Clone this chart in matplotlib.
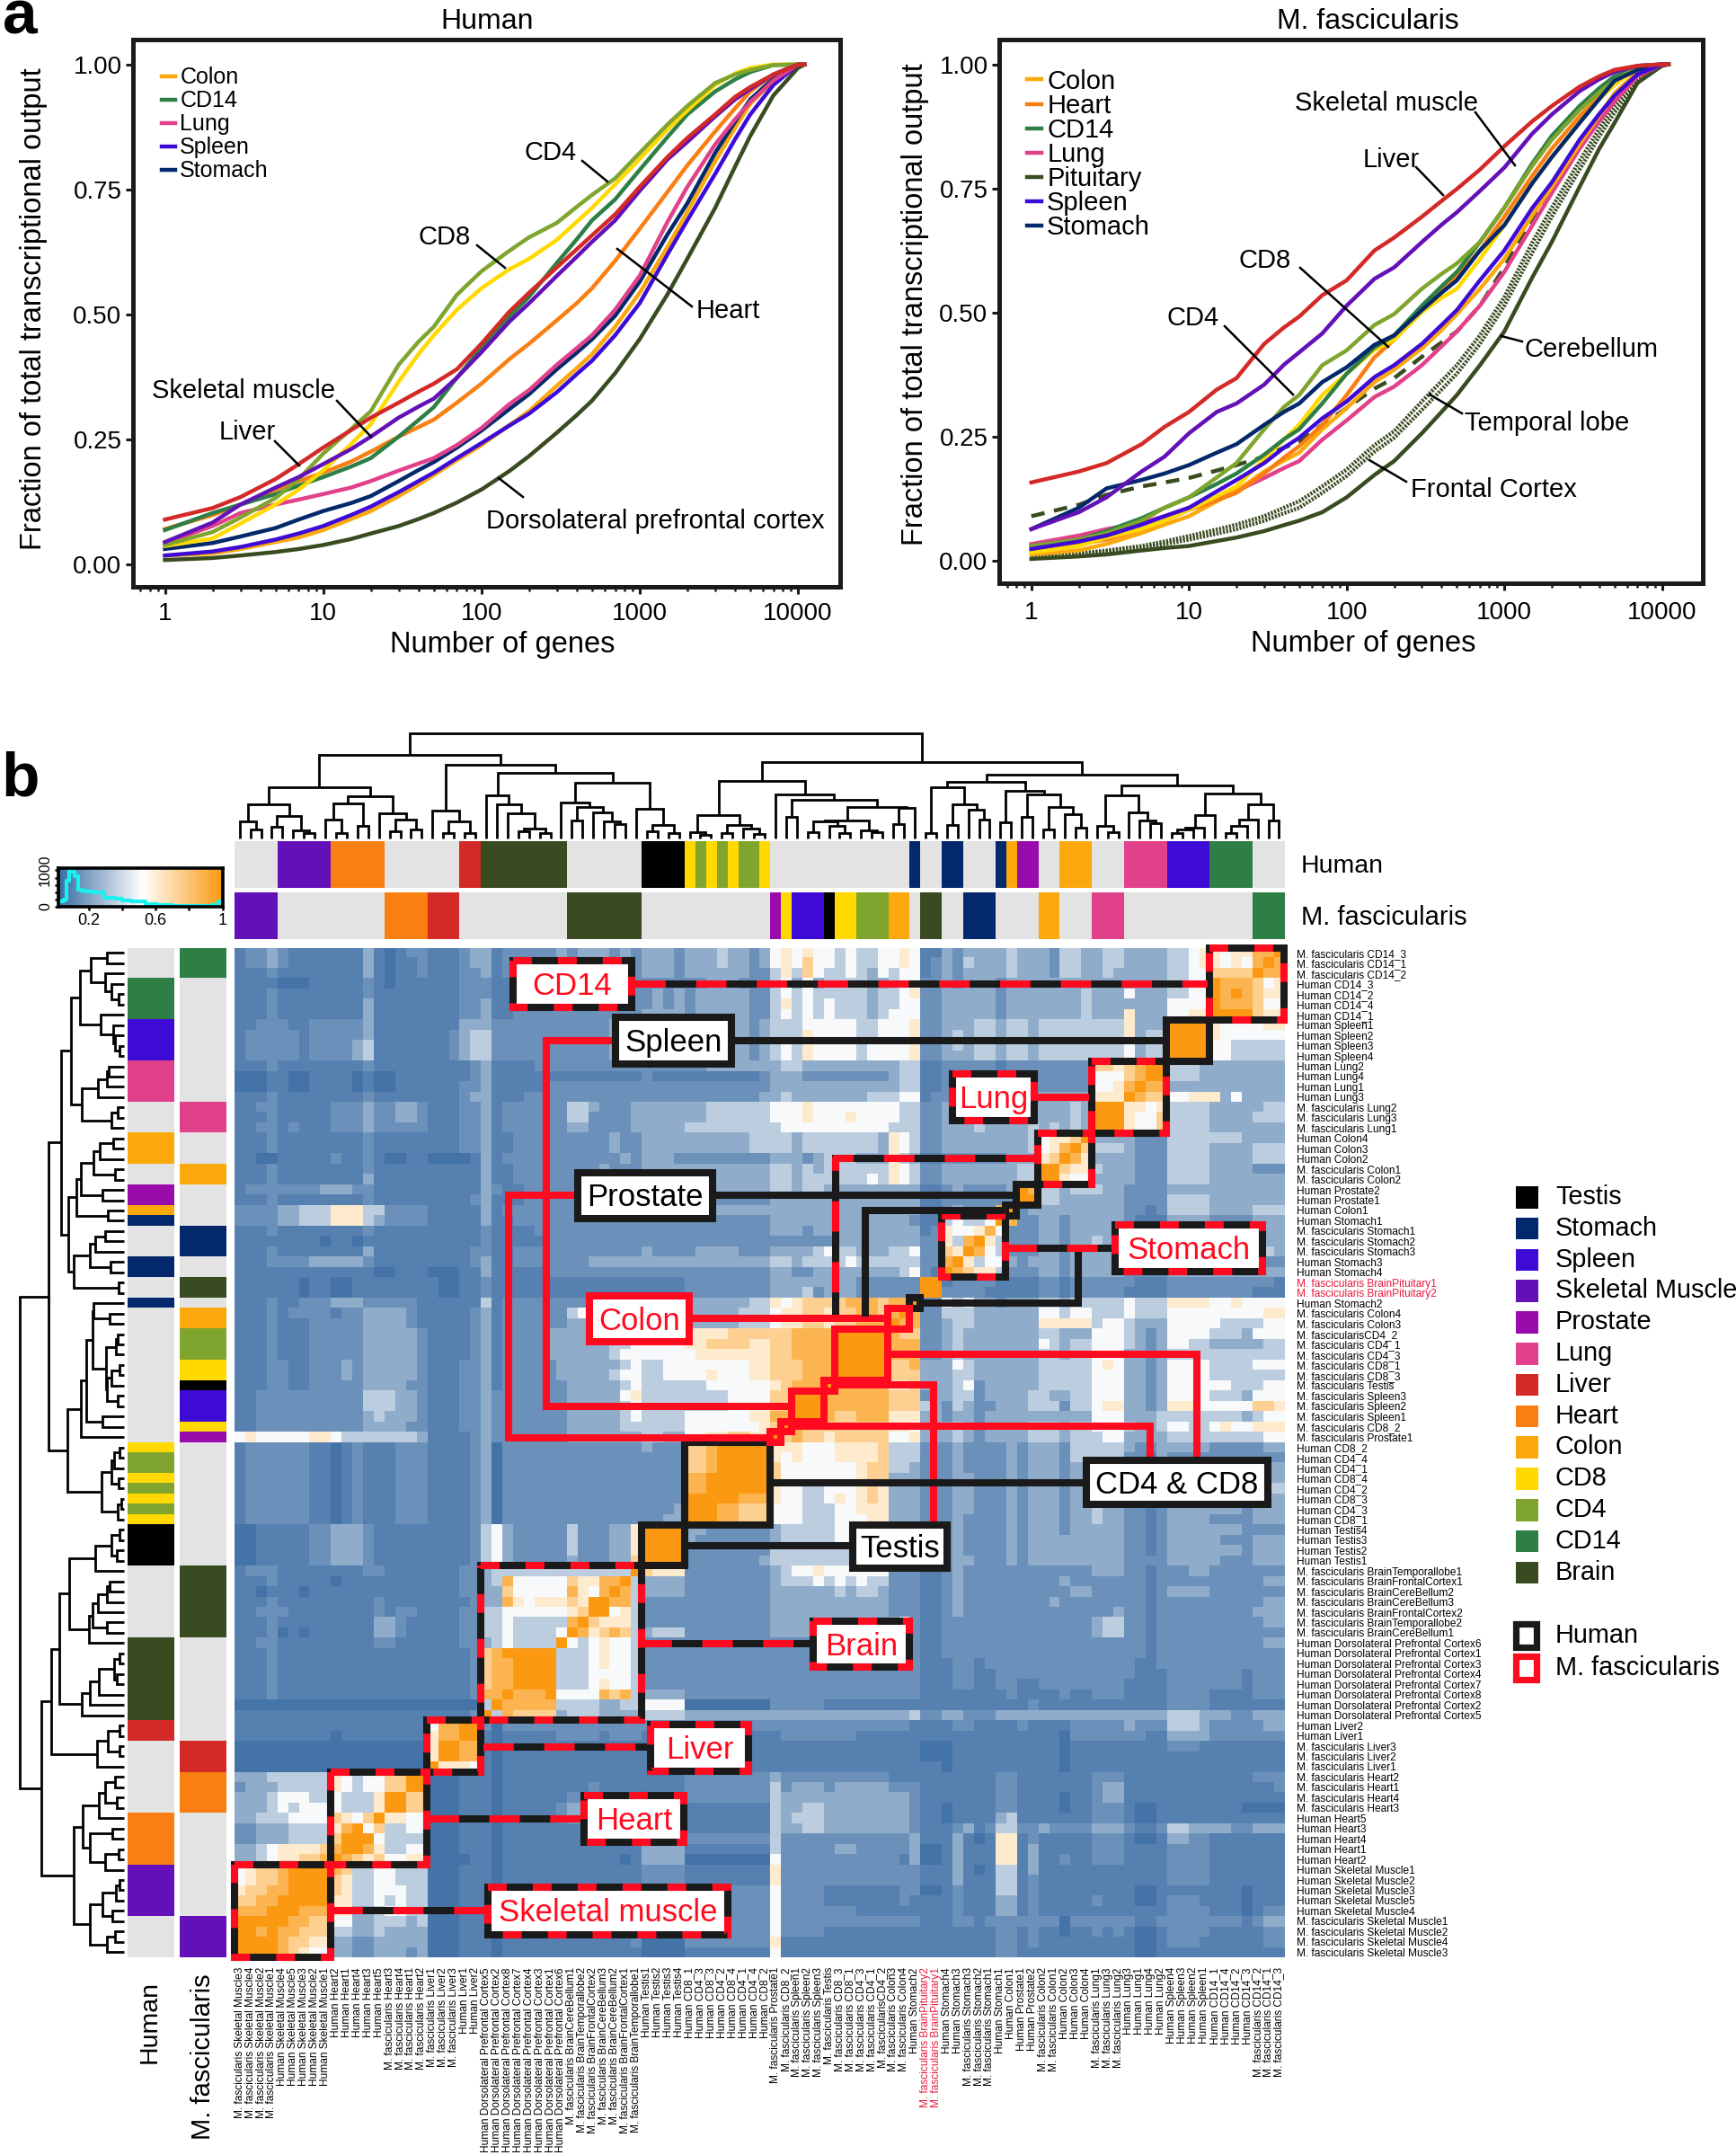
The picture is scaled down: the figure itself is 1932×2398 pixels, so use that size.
import numpy as np
import matplotlib
matplotlib.use("Agg")
import matplotlib.pyplot as plt
from matplotlib.colors import LinearSegmentedColormap, ListedColormap
from matplotlib.patches import Rectangle
from matplotlib.lines import Line2D

plt.rcParams["font.family"] = ["Liberation Sans", "DejaVu Sans"]

W, H = 1932, 2398

# ── panel a data ───────────────────────────────────────────────────────────────

GENES = [1, 2, 3, 5, 7, 10, 15, 20, 30, 40, 50, 70, 100, 150, 200, 300, 400, 500, 700, 1000, 1500, 2000, 3000, 4000, 5000, 7000, 10000, 11000]

h_dlpfc = [.008, .012, .017, .024, .03, .038, .05, .061, .076, .09, .102, .123, .149, .186, .216, .263, .298, .327, .382, .45, .54, .611, .713, .795, .857, .938, .993, 1]
h_colon = [.017, .021, .03, .044, .053, .068, .09, .106, .136, .159, .178, .208, .238, .278, .306, .357, .392, .42, .475, .543, .635, .705, .806, .873, .921, .968, 1, 1]
h_spleen = [.017, .025, .034, .049, .061, .076, .098, .115, .144, .166, .183, .212, .242, .277, .301, .344, .38, .407, .458, .522, .62, .688, .781, .85, .90, .959, 1, 1]
h_stomach = [.03, .042, .055, .072, .089, .106, .122, .136, .166, .188, .204, .233, .267, .31, .34, .39, .423, .45, .497, .565, .66, .722, .823, .885, .93, .972, 1, 1]
h_lung = [.042, .076, .102, .119, .129, .14, .153, .166, .187, .201, .212, .238, .272, .32, .348, .399, .432, .458, .509, .577, .685, .755, .84, .89, .925, .968, 1, 1]
h_heart = [.07, .098, .119, .149, .166, .183, .205, .225, .255, .274, .289, .323, .361, .41, .441, .488, .522, .552, .607, .671, .745, .798, .866, .912, .946, .98, 1, 1]
h_cd14 = [.068, .102, .119, .14, .157, .174, .195, .212, .255, .288, .314, .373, .433, .495, .535, .603, .65, .688, .73, .789, .855, .90, .946, .97, .985, .999, 1, 1]
h_cd8 = [.036, .051, .081, .119, .149, .187, .24, .28, .365, .42, .458, .509, .552, .59, .611, .649, .685, .713, .76, .811, .87, .908, .959, .982, .993, 1, 1, 1]
h_cd4 = [.038, .064, .093, .132, .17, .221, .27, .306, .399, .445, .475, .539, .586, .627, .654, .683, .715, .739, .772, .823, .88, .917, .963, .98, .989, .999, 1, 1]
h_muscle = [.044, .083, .119, .153, .174, .2, .23, .255, .293, .315, .331, .373, .424, .485, .522, .577, .615, .645, .688, .747, .81, .845, .896, .93, .951, .98, 1, 1]
h_liver = [.089, .112, .134, .17, .2, .233, .268, .293, .323, .345, .361, .39, .441, .505, .543, .594, .63, .658, .70, .755, .815, .853, .90, .935, .955, .98, 1, 1]

m_cereb = [.004, .009, .013, .021, .026, .03, .04, .047, .06, .072, .081, .098, .128, .173, .201, .257, .3, .334, .394, .462, .57, .642, .753, .83, .882, .963, .997, 1]
m_frontal = [.009, .013, .019, .026, .034, .043, .055, .064, .081, .096, .107, .137, .171, .22, .248, .304, .345, .377, .437, .514, .62, .693, .788, .855, .903, .963, 1, 1]
m_temporal = [.01, .015, .021, .03, .039, .05, .063, .073, .09, .107, .12, .15, .184, .233, .261, .321, .362, .394, .454, .531, .64, .711, .805, .87, .916, .967, 1, 1]
m_pituitary = [.09, .113, .133, .15, .158, .167, .182, .193, .21, .228, .24, .274, .308, .347, .368, .411, .44, .462, .514, .591, .69, .753, .839, .895, .937, .98, 1, 1]
m_lung = [.034, .051, .064, .077, .09, .107, .127, .141, .167, .187, .201, .244, .283, .33, .351, .394, .432, .462, .514, .582, .675, .741, .83, .885, .925, .976, 1, 1]
m_colon = [.013, .021, .034, .056, .073, .09, .12, .141, .18, .202, .218, .265, .308, .36, .385, .428, .465, .497, .548, .608, .695, .753, .839, .897, .942, .985, 1, 1]
m_heart = [.021, .034, .043, .064, .081, .103, .122, .137, .176, .208, .231, .274, .334, .41, .445, .505, .545, .574, .625, .693, .775, .83, .895, .935, .963, .993, 1, 1]
m_cd8 = [.017, .03, .047, .064, .081, .103, .13, .15, .205, .245, .274, .334, .377, .425, .445, .501, .53, .548, .608, .676, .76, .813, .882, .93, .959, .993, 1, 1]
m_cd14 = [.03, .043, .06, .086, .107, .128, .155, .176, .214, .245, .265, .317, .377, .43, .454, .514, .553, .582, .642, .711, .8, .856, .916, .952, .976, .997, 1, 1]
m_cd4 = [.03, .043, .056, .081, .107, .128, .168, .197, .265, .31, .334, .394, .424, .475, .497, .548, .578, .599, .642, .711, .795, .848, .908, .944, .967, .995, 1, 1]
m_stomach = [.064, .107, .146, .163, .176, .193, .218, .235, .274, .3, .317, .36, .39, .435, .454, .505, .54, .565, .625, .676, .76, .813, .882, .93, .967, .989, 1, 1]
m_spleen = [.024, .039, .051, .073, .09, .107, .14, .163, .197, .228, .248, .287, .321, .37, .394, .437, .475, .505, .565, .625, .71, .762, .848, .9, .937, .98, 1, 1]
m_muscle = [.064, .098, .128, .18, .21, .257, .3, .317, .355, .395, .42, .458, .514, .568, .591, .642, .677, .702, .745, .792, .86, .899, .946, .97, .985, .997, 1, 1]
m_liver = [.158, .18, .197, .235, .27, .30, .345, .368, .437, .47, .492, .535, .565, .625, .651, .693, .725, .749, .788, .835, .885, .916, .955, .976, .989, .997, 1, 1]

COL = {"Testis": "#000000", "Stomach": "#03286b", "Spleen": "#3e0ad6", "Skeletal Muscle": "#6410b8",
       "Prostate": "#980cac", "Lung": "#e1418a", "Liver": "#d32a28", "Heart": "#f97f12", "Colon": "#fba80d",
       "CD8": "#ffd900", "CD4": "#7fa52e", "CD14": "#2e7f46", "Brain": "#394b20"}
GREY = "#e3e3e3"
RED = "#ff0a1e"
BLACK = "#1a1a1a"

# ── panel b data ───────────────────────────────────────────────────────────────

row_labels = [
    "M. fascicularis CD14_3", "M. fascicularis CD14_1", "M. fascicularis CD14_2",
    "Human CD14_3", "Human CD14_2", "Human CD14_4", "Human CD14_1",
    "Human Spleen1", "Human Spleen2", "Human Spleen3", "Human Spleen4",
    "Human Lung2", "Human Lung4", "Human Lung1", "Human Lung3",
    "M. fascicularis Lung2", "M. fascicularis Lung3", "M. fascicularis Lung1",
    "Human Colon4", "Human Colon3", "Human Colon2",
    "M. fascicularis Colon1", "M. fascicularis Colon2",
    "Human Prostate2", "Human Prostate1", "Human Colon1", "Human Stomach1",
    "M. fascicularis Stomach1", "M. fascicularis Stomach2", "M. fascicularis Stomach3",
    "Human Stomach3", "Human Stomach4",
    "M. fascicularis BrainPituitary1", "M. fascicularis BrainPituitary2",
    "Human Stomach2", "M. fascicularis Colon4", "M. fascicularis Colon3",
    "M. fascicularisCD4_2", "M. fascicularis CD4_1", "M. fascicularis CD4_3",
    "M. fascicularis CD8_1", "M. fascicularis CD8_3", "M. fascicularis Testis",
    "M. fascicularis Spleen3", "M. fascicularis Spleen2", "M. fascicularis Spleen1",
    "M. fascicularis CD8_2", "M. fascicularis Prostate1",
    "Human CD8_2", "Human CD4_4", "Human CD4_1", "Human CD8_4", "Human CD4_2",
    "Human CD8_3", "Human CD4_3", "Human CD8_1",
    "Human Testis4", "Human Testis3", "Human Testis2", "Human Testis1",
    "M. fascicularis BrainTemporallobe1", "M. fascicularis BrainFrontalCortex1",
    "M. fascicularis BrainCereBellum2", "M. fascicularis BrainCereBellum3",
    "M. fascicularis BrainFrontalCortex2", "M. fascicularis BrainTemporallobe2",
    "M. fascicularis BrainCereBellum1",
    "Human Dorsolateral Prefrontal Cortex6", "Human Dorsolateral Prefrontal Cortex1",
    "Human Dorsolateral Prefrontal Cortex3", "Human Dorsolateral Prefrontal Cortex4",
    "Human Dorsolateral Prefrontal Cortex7", "Human Dorsolateral Prefrontal Cortex8",
    "Human Dorsolateral Prefrontal Cortex2", "Human Dorsolateral Prefrontal Cortex5",
    "Human Liver2", "Human Liver1",
    "M. fascicularis Liver3", "M. fascicularis Liver2", "M. fascicularis Liver1",
    "M. fascicularis Heart2", "M. fascicularis Heart1", "M. fascicularis Heart4", "M. fascicularis Heart3",
    "Human Heart5", "Human Heart3", "Human Heart4", "Human Heart1", "Human Heart2",
    "Human Skeletal Muscle1", "Human Skeletal Muscle2", "Human Skeletal Muscle3",
    "Human Skeletal Muscle5", "Human Skeletal Muscle4",
    "M. fascicularis Skeletal Muscle1", "M. fascicularis Skeletal Muscle2",
    "M. fascicularis Skeletal Muscle4", "M. fascicularis Skeletal Muscle3",
]
N = len(row_labels)

# correlation levels, one row per sample from the top,
# columns left to right up to the anti-diagonal, the rest is the mirror image
levels = """
1223 21111 11131 0122 111 23 31222223 2333232 3332 33343323 5 6 565 5 45 445 56 5 11 32 333 3 4 33 32 443 344 3333 4456 6566 889
1223 21111 11131 0112 111 23 31222223 2333232 3332 33343323 5 6 575 5 45 445 56 5 12 32 433 3 4 33 32 443 344 3333 4456 6565 89
1112 11111 11131 0112 111 22 31222222 2232222 3332 33333322 4 6 475 4 45 435 45 5 12 32 333 3 4 33 32 443 343 3333 4455 7777 9
1111 00011 11121 0111 111 22 21111222 2222222 2222 22333222 4 5 353 4 44 433 45 5 22 32 333 2 3 33 33 333 333 3333 4455 9888
1112 11111 11121 1111 111 22 21122222 2222222 2323 23333322 4 5 454 4 44 434 45 6 22 33 333 2 3 33 33 334 333 5333 4455 989
1112 11111 11131 1111 111 22 31122222 2222222 2323 23333322 4 6 454 5 44 434 45 5 22 33 333 2 3 33 33 334 333 3333 5555 98
1112 11111 11131 1111 111 22 31122222 2222222 3333 23333322 4 5 454 5 44 434 55 5 22 33 333 2 3 33 33 334 333 6333 5566 9
1122 21122 22231 1111 111 33 32222222 2222323 3333 33333323 4 4 455 5 55 445 55 6 22 33 344 3 4 43 44 444 444 6333 9999
1222 22122 22231 1111 112 34 42222222 2222323 3333 33333323 4 4 465 5 55 445 55 6 22 34 344 3 4 43 44 444 444 6344 999
1222 22122 22341 1111 112 34 42222222 2222322 3333 33333323 4 5 465 5 55 455 55 6 22 34 344 3 4 43 44 444 444 5344 99
1222 22122 22341 1111 112 34 42222222 2222322 3333 33333323 4 5 465 5 55 455 55 6 22 33 344 3 4 43 44 444 444 5344 9
1112 11111 11121 1111 111 12 31111222 2222222 2222 22333333 3 4 433 3 33 333 34 4 11 22 222 1 2 22 22 222 776 7899
0001 10011 11010 0111 111 12 31111111 1111111 2111 11111112 3 3 322 2 22 222 34 4 11 21 222 1 1 22 22 222 555 789
0001 10011 11010 0111 111 22 31111122 2222222 2222 22222222 3 3 333 3 33 333 34 4 11 22 222 1 2 22 22 222 556 89
1112 11111 11121 1111 111 23 31112222 2222222 2222 22222223 3 4 333 3 33 344 45 5 12 22 222 2 2 22 33 333 666 9
1122 11111 22232 2332 111 22 31222222 4432223 3333 33444444 5 5 565 5 55 555 54 4 22 33 333 3 3 33 33 343 999
1112 11111 22232 2332 111 22 31222222 4422223 3333 33444444 5 5 565 5 56 555 54 4 22 33 333 3 3 33 33 343 99
1122 12111 22232 2222 111 22 31222222 3322223 3333 44444444 4 5 555 5 55 555 44 4 22 33 343 3 3 34 34 343 9
1112 11111 11121 1111 111 22 31122222 2222322 3333 33333344 4 4 344 4 44 443 65 4 22 33 333 3 3 34 56 679
1112 11111 11121 1111 111 22 31122222 2222322 3333 33333344 4 4 344 4 44 443 65 4 22 33 333 3 3 34 56 89
1100 11111 21121 0011 000 01 31222222 2222232 3332 22222222 3 3 323 4 44 333 64 3 11 22 222 2 3 33 67 9
1112 11111 11121 1111 111 11 31122222 2223222 3333 33333333 4 4 343 4 44 444 65 4 22 33 333 3 3 44 99
1112 11111 11131 1111 111 11 31122222 2222222 3333 33333333 4 4 344 4 44 454 65 4 22 33 333 3 3 44 9
1222 22223 33221 1111 111 11 32112222 2222222 3333 33333333 4 4 344 3 33 333 33 3 11 23 222 2 3 98
1112 11111 11121 1111 111 12 31112222 2222222 2222 22222222 3 3 333 3 33 333 33 3 11 22 222 2 2 9
2222 33444 66644 2222 111 11 31222222 2222222 3333 33333333 3 3 333 3 33 333 33 3 11 23 222 8 9
2222 33444 66643 2222 111 11 31122222 2222222 2222 22222222 3 3 333 3 33 333 33 2 11 45 445 9
1112 11111 11121 1111 111 11 21111222 2222222 2222 22222222 3 3 323 3 33 333 33 3 12 65 568
1111 11110 11011 1111 111 11 21111122 2222222 2222 22222222 2 2 222 2 33 333 33 3 22 64 89
1112 11111 11131 1111 111 12 21122222 2222222 3222 23333222 3 3 334 5 44 333 44 5 22 76 9
1112 22233 33321 1111 111 12 31122222 2233333 3333 33333333 4 4 344 4 45 444 44 4 22 89
1111 11111 11110 0111 000 11 31111122 2222222 2222 22222222 3 3 223 3 33 333 34 5 21 9
1111 11011 00111 1111 100 11 21111111 1111111 1111 22222222 3 3 333 3 33 222 22 2 99
1111 11011 00111 1111 100 11 21111111 1111111 1111 22222222 3 3 342 3 33 222 22 2 9
1112 11222 33322 2221 111 11 41222222 2222222 3322 33333344 6 5 677 7 78 887 88 9
1112 12222 12233 3321 111 12 31222222 4522222 3333 33333444 5 6 677 6 77 887 89
1112 11122 22233 3321 111 12 31222222 3322222 3333 33333444 5 6 677 6 77 888 9
1112 11122 22233 3332 111 12 31222233 3333345 5555 66667777 7 7 888 8 99 999
1112 11122 22233 3332 111 12 31222233 3333445 5555 66777766 7 7 888 8 99 99
1112 11122 22233 3332 111 12 31222233 3333455 5555 56666666 7 7 888 8 99 9
1112 21122 23233 3332 111 22 31222223 3333345 4455 55555566 7 7 788 8 99
1112 21122 23233 3332 111 22 31222223 3333455 4455 55655566 7 7 788 8 9
1112 21122 22233 3322 111 22 31222222 3333345 4444 44555555 6 7 888 9
1122 22222 22244 4332 111 22 32222222 3333356 4444 44445555 7 7 999
1122 22222 22244 4332 111 22 32222222 3333345 4444 44445555 7 7 99
1122 22222 22234 3332 111 22 32222222 3333345 4444 55555566 8 8 9
1122 22222 22233 3322 111 22 32222222 3333344 4444 55555556 7 9
5655 55566 54444 4443 111 12 32222222 3333333 4433 55667766 9
1222 22211 01211 1222 111 12 30222222 2222222 3222 77899999
1222 22211 01211 1222 111 12 30222222 2222222 2222 7789999
1222 22211 01211 1222 111 12 30222222 2222222 2222 778999
1222 22211 01211 1222 111 12 30222222 2222222 2222 88999
1222 22211 01211 1222 111 12 30222222 2222222 2222 8899
1222 22211 01211 1222 111 12 30222222 2222222 2222 999
1222 22211 01211 1222 111 12 30222222 2222222 2223 99
1222 22211 01211 1222 111 12 30222222 2222222 2233 9
0011 11122 33321 1111 111 12 45322222 4222336 9999
0011 11122 33321 1111 111 12 45322222 4222336 999
0011 11122 33321 1111 111 12 45322222 4222336 99
0011 11122 33321 1111 111 12 45322222 3222337 9
1222 11111 11122 1111 111 22 34444444 4444449
1112 11111 01111 1111 111 22 34855555 766889
1101 11011 11111 1111 111 22 33755555 86589
1112 11111 11112 1111 111 12 33865666 7699
1122 21111 11112 1221 111 22 44555555 679
1112 11111 11113 3211 111 22 44544444 89
1112 01011 11113 3211 111 22 44544445 9
1122 11111 11112 2111 111 22 34544449
1112 11111 11111 1111 111 12 7899999
1112 11111 11111 1111 111 12 788999
1112 11111 11111 1111 111 12 78899
1112 11111 11111 1111 111 12 7889
1112 11111 11111 1111 111 12 889
0000 00000 00000 0000 000 00 49
1111 11111 11111 1111 111 12 9
1111 11111 11111 1111 588 99
1111 11111 01111 1111 688 9
0000 00000 00000 0000 699
0000 00000 00000 0000 69
0000 00000 00000 0000 9
3334 44444 65455 7799
2333 44444 65455 779
3334 55544 54446 99
3334 54555 54446 9
3344 45555 76579
2233 34444 6895
2233 34444 799
3345 66667 89
3345 66778 9
5677 89999
5677 8999
6778 899
7788 99
8889 9
9999
998
99
9
""".split("\n")[1:-1]
LEVEL_VALUE = [.05, .09, .15, .24, .35, .50, .62, .74, .87, 1.0]

# dendrogram as [height, left, right], leaves are columns counted from the left
tree = [1.0,
    [.793,
        [.483,
            [.325, [.16, 0, [.086, 1, 2]], [.21, [.11, 3, 4], [.075, 5, [.046, 6, 7]]]],
            [.397,
                [.33, [.18, 8, [.05, 9, 10]], [.115, 11, 12]],
                [.24, 13, [.18, [.066, 14, 15], [.086, 16, 17]]]]],
        [.698,
            [.26, 18, [.158, [.046, 19, 20], [.046, 21, 22]]],
            [.62,
                [.405, 23, [.325, 24, [.24, 25, [.095, [.066, 26, 27], [.046, 28, 29]]]]],
                [.53,
                    [.34, 30, [.30, [.167, 31, 32], [.247, 33, [.16, 34, [.138, 35, 36]]]]],
                    [.28, 37, [.124, [.066, 38, 39], [.046, 40, 41]]]]]]],
    [.727,
        [.546,
            [.218, [.057, 42, [.03, 43, 44]], [.124, [.05, 45, 46], [.095, 47, [.04, 48, 49]]]],
            [.417, 50,
                [.362, [.204, 51, 52],
                    [.30,
                        [.17, [.16, [.057, 53, 54], [.12, 55, [.046, 56, 57]]], [.075, 58, [.06, 59, 60]]],
                        [.29, [.138, 61, 62], 63]]]]],
        [.606,
            [.534,
                [.483, [.05, 64, 65],
                    [.325, [.13, 66, 67], [.273, 68, [.18, 69, 70]]]],
                [.454, [.152, 71, 72],
                    [.417, [.204, 73, 74],
                        [.296, [.086, 75, 76], [.233, 77, [.103, 78, 79]]]]]],
            [.506,
                [.405, [.118, 80, [.057, 81, 82]],
                    [.247, 83, [.167, 84, [.144, 85, 86]]]],
                [.425,
                    [.224, [.1, [.086, [.046, 87, 88], 89], 90], 91],
                    [.32, [.18, [.118, [.05, 92, 93], 94], 95], [.167, 96, 97]]]]]]]

# key histogram
hist_x = [.043, .062, .076, .09, .106, .126, .145, .167, .2, .263, .33, .39, .415, .5, .58, .636, .77, .91, .967, .99, 1.0]
hist_y = [160, 200, 720, 1000, 960, 840, 480, 440, 416, 384, 256, 224, 176, 136, 80, 40, 24, 24, 40, 144, 120]

# cluster boxes as first and last sample
boxes_both = [(0, 6), (11, 17), (18, 22), (26, 31), (60, 74), (75, 79), (80, 88), (89, 97)]
boxes_human = [(7, 10), (23, 24), (25, 25), (34, 34), (48, 55), (56, 59)]
boxes_macaque = [(35, 36), (37, 41), (42, 42), (43, 45), (46, 46), (47, 47)]

legend_items = ["Testis", "Stomach", "Spleen", "Skeletal Muscle", "Prostate", "Lung", "Liver",
                "Heart", "Colon", "CD8", "CD4", "CD14", "Brain"]


def tissue(name):
    if "Skeletal" in name:
        return "Skeletal Muscle"
    if "Brain" in name or "Dorsolateral" in name:
        return "Brain"
    for t in ["CD14", "CD4", "CD8", "Spleen", "Lung", "Colon", "Prostate", "Stomach", "Testis", "Liver", "Heart"]:
        if t in name:
            return t


def ax_px(x0, y0, x1, y1):
    return fig.add_axes([x0 / W, 1 - y1 / H, (x1 - x0) / W, (y1 - y0) / H])


fig = plt.figure(figsize=(W / 100, H / 100), dpi=100)

# ── panel a ────────────────────────────────────────────────────────────────────

def curve_axes(box, xlim, title, title_x, xlabel_x, ylabel_y, ylabel_x, xpad):
    ax = ax_px(*box)
    ax.set_xscale("log")
    ax.set_xlim(*xlim)
    ax.set_ylim(-.045, 1.05)
    ax.set_xticks([1, 10, 100, 1000, 10000], ["1", "10", "100", "1000", "10000"])
    ax.set_yticks([0, .25, .5, .75, 1], ["0.00", "0.25", "0.50", "0.75", "1.00"])
    ax.tick_params(axis="both", which="major", labelsize=20, length=6, width=2.2, color=BLACK, pad=3)
    ax.tick_params(axis="x", which="major", pad=xpad)
    ax.tick_params(axis="x", which="minor", length=3.5, width=1.8, color=BLACK)
    for s in ax.spines.values():
        s.set_linewidth(3.6)
        s.set_color(BLACK)
    ax.set_xlabel("Number of genes", fontsize=23.5, x=xlabel_x, labelpad=4)
    ax.set_ylabel("Fraction of total transcriptional output", fontsize=23.5, y=ylabel_y)
    ax.yaxis.set_label_coords(ylabel_x, ylabel_y)
    ax.set_title(title, fontsize=23, x=title_x, pad=9)
    return ax


ax1 = curve_axes((148, 44, 935, 652.6), (10 ** -.202, 10 ** 4.267), "Human", .501, .523, .507, -.121, 6.5)
for vals, c in [(h_dlpfc, "Brain"), (h_colon, "Colon"), (h_spleen, "Spleen"), (h_stomach, "Stomach"), (h_lung, "Lung"),
                (h_heart, "Heart"), (h_cd14, "CD14"), (h_cd8, "CD8"), (h_cd4, "CD4"), (h_muscle, "Skeletal Muscle"),
                (h_liver, "Liver")]:
    ax1.plot(GENES, vals, color=COL[c], lw=3.2)
ax1.legend(handles=[Line2D([], [], color=COL[c], lw=3.2, label=c) for c in ["Colon", "CD14", "Lung", "Spleen", "Stomach"]],
           loc="upper left", bbox_to_anchor=(.041, .95), frameon=False, fontsize=18, handlelength=.6,
           handletextpad=.2, labelspacing=.08, borderpad=0, borderaxespad=0)

ax2 = curve_axes((1112, 44, 1894.5, 649), (10 ** -.204, 10 ** 4.256), "M. fascicularis", .524, .518, .513, -.1, 8.5)
ax2.plot(GENES, m_cereb, color=COL["Brain"], lw=3.2)
ax2.plot(GENES, m_frontal, color=COL["Brain"], lw=3.2, ls=(0, (.5, .35)))
ax2.plot(GENES, m_temporal, color=COL["Brain"], lw=3.2, ls=(0, (.5, .35)))
ax2.plot(GENES, m_pituitary, color=COL["Brain"], lw=3.2, ls=(0, (3.4, 2.4)))
for vals, c in [(m_lung, "Lung"), (m_colon, "Colon"), (m_heart, "Heart"), (m_cd8, "CD8"), (m_cd14, "CD14"),
                (m_cd4, "CD4"), (m_stomach, "Stomach"), (m_spleen, "Spleen"), (m_muscle, "Skeletal Muscle"),
                (m_liver, "Liver")]:
    ax2.plot(GENES, vals, color=COL[c], lw=3.2)
m_handles = [Line2D([], [], color=COL[c], lw=3.2, label=c) for c in ["Colon", "Heart", "CD14", "Lung"]]
m_handles.append(Line2D([], [], color=COL["Brain"], lw=3.2, label="Pituitary"))
m_handles += [Line2D([], [], color=COL[c], lw=3.2, label=c) for c in ["Spleen", "Stomach"]]
ax2.legend(handles=m_handles, loc="upper left", bbox_to_anchor=(.040, .946), frameon=False, fontsize=21, handlelength=.55,
           handletextpad=.2, labelspacing=-.03, borderpad=0, borderaxespad=0)

# ── panel b: heatmap and annotation bars ───────────────────────────────────────

matrix_rows = [r.replace(" ", "") for r in levels]
M = np.zeros((N, N))
for k, row in enumerate(matrix_rows):
    row = row.ljust(N - k, row[-1])[:N - k]
    for j, ch in enumerate(row):
        M[k, j] = LEVEL_VALUE[int(ch)]
        M[N - 1 - j, N - 1 - k] = LEVEL_VALUE[int(ch)]

heat_cmap = LinearSegmentedColormap.from_list("heat", [(0, "#3a6ca3"), (.51, "#ffffff"), (1, "#fb9a12")])

hm = ax_px(260.7, 1054.7, 1429.4, 2178)
hm.imshow(M, cmap=heat_cmap, vmin=.02, vmax=1, aspect="auto", interpolation="nearest", extent=(0, N, N, 0))
hm.yaxis.tick_right()
hm.set_yticks(np.arange(N) + .5, row_labels, fontsize=8.6)
hm.set_xticks(np.arange(N) + .5, row_labels[::-1], fontsize=8.6, rotation=90)
hm.tick_params(axis="both", length=0)
hm.tick_params(axis="y", pad=9.5)
hm.tick_params(axis="x", pad=8)
for lab in hm.get_xticklabels() + hm.get_yticklabels():
    if "Pituitary" in lab.get_text():
        lab.set_color("#e8193c")
for s in hm.spines.values():
    s.set_visible(False)


def outline(ax, x, y, w, h, style, lw=5.8, face="none", z=5, clip=False):
    kw = dict(clip_on=clip, zorder=z, joinstyle="miter")
    base = RED if style == "red" else BLACK
    ax.add_patch(Rectangle((x, y), w, h, fc=face, ec=base, lw=lw, **kw))
    if style == "both":
        ax.add_patch(Rectangle((x, y), w, h, fc="none", ec=RED, lw=lw, ls=(0, (2.6, 3.6)), capstyle="butt", **kw))


for style, group in [("black", boxes_human), ("red", boxes_macaque), ("both", boxes_both)]:
    for k0, k1 in group:
        size = k1 - k0 + 1
        outline(hm, N - 1 - k1, k0, size, size, style)

cat_names = ["none"] + list(COL)
bar_cmap = ListedColormap([GREY] + list(COL.values()))
human_bar = np.array([cat_names.index(tissue(n)) if n.startswith("Human") else 0 for n in row_labels])
macaque_bar = np.array([cat_names.index(tissue(n)) if n.startswith("M.") else 0 for n in row_labels])

for box, vals in [((261, 936, 1429.4, 988), human_bar), ((261, 993, 1429.4, 1045), macaque_bar)]:
    a = ax_px(*box)
    a.imshow(vals[::-1][None, :], cmap=bar_cmap, vmin=0, vmax=len(cat_names) - 1, aspect="auto", interpolation="nearest")
    a.axis("off")
for box, vals in [((142.4, 1054.7, 194, 2178), human_bar), ((199.6, 1054.7, 251, 2178), macaque_bar)]:
    a = ax_px(*box)
    a.imshow(vals[:, None], cmap=bar_cmap, vmin=0, vmax=len(cat_names) - 1, aspect="auto", interpolation="nearest")
    a.axis("off")

# dendrograms
segments = []


def walk(node):
    if isinstance(node, int):
        return node + .5, 0
    h, left, right = node
    xa, ha = walk(left)
    xb, hb = walk(right)
    segments.append(([xa, xa, xb, xb], [ha, h, h, hb]))
    return (xa + xb) / 2, h


walk(tree)
top = ax_px(260.7, 816, 1429.4, 932.7)
side = ax_px(22, 1054.7, 138, 2178)
for xs, ys in segments:
    top.plot(xs, ys, color="black", lw=2.0, solid_joinstyle="miter", solid_capstyle="butt", clip_on=False)
    side.plot(ys, [N - x for x in xs], color="black", lw=2.0, solid_joinstyle="miter", solid_capstyle="butt", clip_on=False)
top.set_xlim(0, N)
top.set_ylim(0, 1)
top.axis("off")
side.set_xlim(1, 0)
side.set_ylim(N, 0)
side.axis("off")

# colour key
key = ax_px(65, 966, 247.5, 1009)
key.imshow(np.linspace(.02, 1, 256)[None, :], cmap=heat_cmap, vmin=.02, vmax=1, aspect="auto",
           extent=(.02, 1, 0, 1060), interpolation="bilinear")
key.plot(hist_x, hist_y, color="#19f0f0", lw=3, drawstyle="steps-mid", clip_on=False)
key.set_xlim(.02, 1)
key.set_ylim(0, 1060)
key.set_xticks([.2, .4, .6, .8, 1], ["0.2", "", "0.6", "", "1"], fontsize=13)
key.set_yticks([0, 200, 400, 600, 800, 1000], ["0", "", "", "", "", "1000"], fontsize=11.5, rotation=90, va="center")
key.tick_params(axis="both", length=3, width=1.8, pad=2)
for s in key.spines.values():
    s.set_linewidth(2.6)

# ── overlay: labels, connectors, legend ────────────────────────────────────────

ov = fig.add_axes([0, 0, 1, 1], zorder=20)
ov.set_xlim(0, W)
ov.set_ylim(H, 0)
ov.axis("off")

ov.text(3, 38, "a", fontsize=50, fontweight="bold", va="baseline", ha="left")
ov.text(1, 885, "b", fontsize=50, fontweight="bold", va="baseline", ha="left")

curve_labels = [
    ("CD4", 613, 169, 648, 179, 676, 202), ("CD8", 495, 263, 531, 273, 562, 298),
    ("Heart", 810, 345, 770, 341, 687, 277), ("Skeletal muscle", 271, 434, 375, 446, 413, 486),
    ("Liver", 275, 480, 306, 491, 333, 518), ("Dorsolateral prefrontal cortex", 729, 579, 582, 553, 555, 532),
    ("Skeletal muscle", 1543, 114, 1642, 125, 1686, 184), ("Liver", 1548, 177, 1576, 186, 1606, 217),
    ("CD8", 1408, 289, 1447, 298, 1545, 386), ("CD4", 1328, 353, 1363, 363, 1439, 439),
    ("Cerebellum", 1771, 388, 1694, 380, 1671, 374), ("Temporal lobe", 1722, 470, 1627, 460, 1591, 439),
    ("Frontal Cortex", 1662, 544, 1565, 536, 1524, 512),
]
for txt, tx, ty, x0, y0, x1, y1 in curve_labels:
    ov.text(tx, ty + 1, txt, fontsize=21, ha="center", va="center")
    ov.plot([x0, x1], [y0, y1], color="black", lw=1.8)

ov.text(1448, 964, "Human", fontsize=20.5, va="center")
ov.text(1448, 1021, "M. fascicularis", fontsize=21, va="center")
ov.text(167, 2204, "Human", fontsize=20.5, rotation=90, ha="center", va="top")
ov.text(226, 2196, "M. fascicularis", fontsize=21, rotation=90, ha="center", va="top")

LW = 5.8


def conn(xs, ys, style):
    ov.plot(xs, ys, color=RED if style == "red" else BLACK, lw=LW, solid_joinstyle="miter", solid_capstyle="butt", zorder=2)
    if style == "both":
        ov.plot(xs, ys, color=RED, lw=LW, ls=(0, (4.2, 4.2)), dash_capstyle="butt", zorder=2.1)


conn([1039, 1039, 926], [1693, 1541, 1541], "red")
conn([1332, 1332, 990], [1621, 1507, 1507], "red")
conn([1280, 1280, 879], [1621, 1587, 1587], "red")
conn([681, 608, 608, 881], [1158, 1158, 1565, 1565], "red")
conn([639, 566, 566, 857], [1330, 1330, 1600, 1600], "red")
conn([771, 988], [1467, 1467], "red")
conn([1155, 1212], [1221, 1221], "red")
conn([818, 1297], [1158, 1158], "black")
conn([797, 1130], [1330, 1330], "black")
conn([858, 1205], [1650, 1650], "black")
conn([945, 762], [1720, 1720], "black")
conn([1118, 963, 963], [1347, 1347, 1465], "black")
conn([1200, 1200, 1026], [1389, 1450, 1450], "black")
conn([707, 1344], [1095, 1095], "both")
conn([1120, 1238], [1389, 1389], "both")
conn([1153, 930, 930], [1289, 1289, 1463], "both")
conn([714, 901], [1829, 1829], "both")
conn([538, 720], [1944, 1944], "both")
conn([477, 646], [2024, 2024], "both")
conn([370, 539], [2126, 2126], "both")

tag_boxes = [
    ("CD14", 567, 1065, 707, 1125, "both"), ("Spleen", 681, 1128, 818, 1188, "black"),
    ("Lung", 1056, 1191, 1155, 1251, "both"), ("Prostate", 639, 1301, 797, 1360, "black"),
    ("Stomach", 1237, 1359, 1409, 1419, "both"), ("Colon", 652, 1438, 771, 1497, "red"),
    ("CD4 & CD8", 1205, 1621, 1415, 1678, "black"), ("Testis", 945, 1693, 1058, 1749, "black"),
    ("Brain", 901, 1800, 1016, 1859, "both"), ("Liver", 720, 1915, 837, 1975, "both"),
    ("Heart", 646, 1994, 765, 2054, "both"), ("Skeletal muscle", 539, 2096, 814, 2157, "both"),
]
for txt, x0, y0, x1, y1, style in tag_boxes:
    outline(ov, x0 + 4, y0 + 4, x1 - x0 - 8, y1 - y0 - 8, style, face="white", z=6)
    ov.text((x0 + x1) / 2, (y0 + y1) / 2 + 2.5, txt, fontsize=25, ha="center", va="center", zorder=7,
            color="black" if style == "black" else RED)

for i, name in enumerate(legend_items):
    y = 1320 + i * 34.8
    ov.add_patch(Rectangle((1687, y), 24.5, 24.5, fc=COL[name], ec="none"))
    ov.text(1731, y + 12, name, fontsize=20.8, va="center")

for y, c, name in [(1820, BLACK, "Human"), (1856, RED, "M. fascicularis")]:
    ov.add_patch(Rectangle((1687, y - 13), 23, 26, fc="white", ec=c, lw=5.2))
    ov.text(1731, y, name, fontsize=20.8, va="center")

fig.savefig("out.png", dpi=100)
